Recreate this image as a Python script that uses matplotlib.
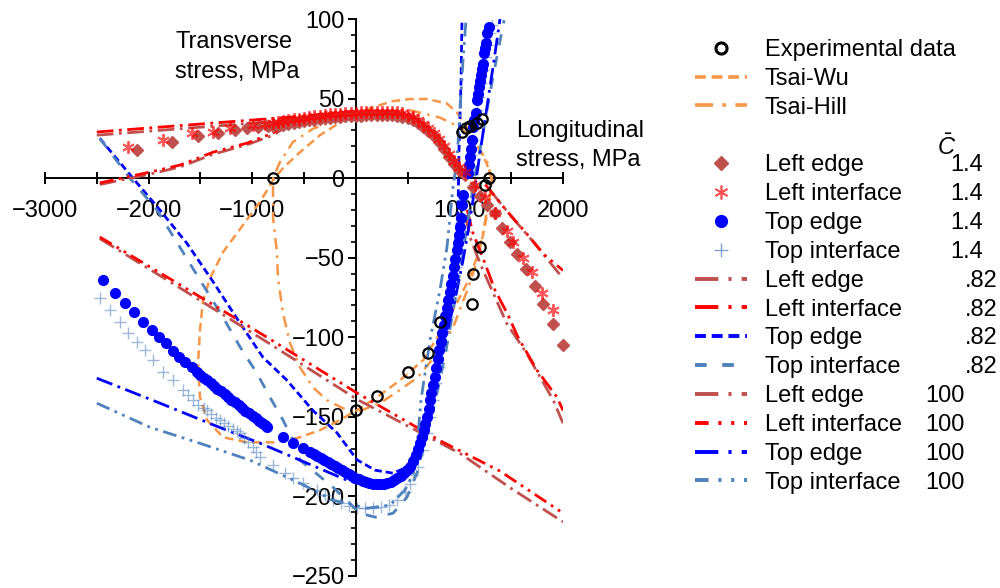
import numpy as np
import matplotlib
matplotlib.use('Agg')
import matplotlib.pyplot as plt
from matplotlib.lines import Line2D
from matplotlib.ticker import MultipleLocator, FuncFormatter

plt.rcParams['font.family'] = ['Liberation Sans', 'DejaVu Sans']
plt.rcParams['mathtext.fontset'] = 'custom'
plt.rcParams['mathtext.rm'] = 'Liberation Sans'
plt.rcParams['mathtext.it'] = 'Liberation Sans:italic'

nan = np.nan

# ---------------- data (longitudinal stress x, transverse stress y, MPa) -------------
exp_x = [-800, 0, 205, 502, 695, 811, 1120, 1130, 1197, 1245, 1284, 1023, 1062, 1100, 1168, 1216]
exp_y = [0, -145.5, -137, -122, -110, -90.5, -79, -60, -43, -4.4, 0, 29, 31.4, 32.7, 34.6, 37]

tw_x = [1315, 1263, 1167, 1070, 974, 877, 687, 523, 359, 166, -85, -346, -539, -703, -799,
        -925, -1089, -1282, -1407, -1475, -1504, -1523, -1504, -1436, -1282, -1050, -799,
        -568, -346, -153, 12, 205, 427, 649, 813, 938, 1073, 1170, 1228, 1276, 1315]
tw_y = [-1.3, 9.4, 22, 32, 41.5, 47, 49.7, 49.7, 48.4, 44.6, 37.7, 27, 16.3, 6.3, -1.3,
        -15, -29.5, -46.5, -63, -76.7, -95.5, -116.3, -137.6, -152, -162.8, -166, -166,
        -163.4, -158.4, -152, -145.8, -137.6, -127, -114.4, -97.4, -83, -66, -49.7, -35.8, -20, -1.3]

th_x = [1315, 1263, 1131, 1006, 813, 523, 205, 0, -200, -415, -608, -733, -799, -799, -761,
        -751, -703, -635, -539, -414, -278, -124, 12, 234, 427, 600, 800, 950, 1090, 1180,
        1240, 1290, 1315]
th_y = [-1.3, 11.3, 24, 32, 38, 42.7, 41.5, 39, 36, 31, 22.6, 10, 0, -25, -46.5,
        -62.9, -84.8, -103.7, -118.8, -131.4, -139.5, -144.6, -147, -141.4, -133, -125, -109,
        -92, -68, -50, -30, -12, -1.3]

band_x = [-800, -750, -700, -650, -600, -550, -500, -450, -400, -350, -300, -250, -200, -150,
          -100, -50, 0, 50, 100, 150, 200, 250, 300, 350, 400, 450, 500, 550, 600, 650, 700,
          750, 800, 850, 900, 950, 1000, 1050]
band_y = [34.0, 34.5, 34.9, 35.5, 36.1, 36.6, 37.1, 37.6, 38.0, 38.4, 38.8, 39.2, 39.6, 39.8,
          40.0, 40.2, 40.3, 40.5, 40.7, 40.8, 40.9, 40.9, 40.9, 40.8, 40.5, 39.9, 39.0, 37.6,
          35.8, 33.5, 30.8, 27.5, 23.9, 19.5, 14.5, 10.0, 6.3, 3.0]

le14_x = [-2115, -1777, -1520, -1327, -1166, -1047, -941, -845] + band_x + \
         [1131, 1199, 1266, 1343, 1411, 1488, 1556, 1643, 1730, 1807, 1904, 2000]
le14_y = [17.6, 22.8, 26.4, 28.5, 30.2, 31.2, 32.2, 32.7] + [v - 1.2 for v in band_y] + \
         [-5.7, -11, -17, -22, -31.4, -40.2, -47.8, -57.2, -67.9, -79.2, -91.8, -105]

li14_x = [-2199, -1861, -1584, -1376, -1214, -992, -880] + band_x + \
         [1150, 1250, 1340, 1461, 1519, 1616, 1703, 1799, 1905]
li14_y = [19.5, 23.9, 28.1, 29.1, 31.4, 33.3, 33.8] + [v + 0.8 for v in band_y] + \
         [-4, -12, -22, -33, -40, -50, -59, -72, -83]

te14_x = [-2440, -2324, -2228, -2141, -2054, -1967, -1900, -1832, -1764, -1706, -1648, -1581,
          -1533, -1504, -1470, -1436, -1400, -1369, -1335, -1301, -1267, -1233, -1200, -1166,
          -1132, -1098, -1065, -1031, -997, -963, -934, -905, -880, -857,
          -703, -606, -510,
          -442, -408, -374, -340, -307, -273, -239, -205, -172, -138, -104, -70, -37, -3, 31,
          65, 99, 132, 166, 200, 234, 268, 301, 335, 369, 402, 436, 466, 494,
          523, 552, 581, 600, 620, 639, 658, 672, 687, 702, 716, 730, 745, 760, 774, 789, 803,
          818, 832, 847, 861, 876, 890, 905, 919, 934, 948, 962, 977, 987, 997, 1006, 1016,
          1025, 1035,
          1083, 1093, 1102, 1112, 1122, 1131, 1145, 1160, 1170, 1180, 1189, 1199, 1208, 1218,
          1228, 1237, 1247, 1257, 1266, 1286]
te14_y = [-64, -72.3, -78.6, -84.3, -90.5, -95.5, -100, -103.7, -108.7, -112.5, -115.7, -118.8,
          -122, -123.8, -125.5, -127, -129, -130.7, -132.3, -133.9, -135.8, -137.6, -139.2, -140.8,
          -142.7, -144.6, -146.2, -147.7, -149.2, -150.8, -152.5, -154, -155.3, -156.5,
          -162.8, -166.6, -169.7,
          -172.2, -173.5, -174.7, -176, -177.2, -178.5, -179.8, -181, -182.3, -183.5, -184.8, -186,
          -187.3, -188.3, -189.2, -190.1, -191, -191.7, -192.3, -192.5, -192.3, -192, -191.7,
          -190.8, -189.8, -188.5, -187.3, -185.5, -183.5,
          -181.6, -178, -174, -170.5, -166.6, -162.5, -158.4, -154.3, -150.2, -145, -139.5, -134.7,
          -130, -124.7, -119.4, -113.7, -108, -102.7, -97.4, -92, -86.7, -81.7, -76.7, -71.7, -66.6,
          -61.3, -56, -50.7, -45.3, -40.5, -35.8, -30.4, -25, -17, -10.7,
          3, 8, 13, 18.5, 24, 32, 36.5, 41, 49, 53, 57, 61, 65, 68.5, 72, 78.6, 82, 85, 91, 95]

ti14_x = [-2469, -2373, -2276, -2199, -2112, -2035, -1958, -1861, -1764, -1668, -1620, -1571,
          -1520, -1470, -1436, -1400, -1350, -1311, -1270, -1230, -1190, -1150, -1118, -1080,
          -1040, -992, -960, -925, -799, -683, -606, -510, -374, -297, -220, -143, -66, 12, 89,
          166, 243, 320, 398, 475, 523, 552,
          600, 648, 687, 716, 745, 774, 803, 832, 861, 890, 919, 948, 967, 986, 1006, 1025, 1035,
          1093, 1112, 1131, 1150, 1170, 1189, 1208, 1228, 1257, 1276, 1295, 1315]
ti14_y = [-75.4, -83, -90.5, -97.4, -103, -108, -114.4, -122, -127, -133, -136.5, -139.5,
          -142.5, -144.5, -146, -148, -150.5, -152, -154, -156, -157.5, -159, -160.3, -163,
          -166, -169, -172, -175.4, -180.4, -185.4, -188.6, -191.7, -196.1, -199.2, -202.4,
          -204.3, -206.1, -207.4, -207.4, -207.4, -206.8, -205.5, -202.4, -197.3, -192.3, -186.7,
          -181.6, -171, -160.3, -150.2, -139.5, -128.8, -118.8, -108, -97.4, -87.4, -76.7, -66,
          -56, -45.3, -34.6, -24.5, -13.8,
          5, 14.5, 24, 33.3, 42.7, 51, 59.7, 67.9, 76, 83.6, 91, 96]

le082_x = [-2500, -2000, -1500, -1000, -500, 0, nan, 1060, 1102, 1199, 1457, 1650, 1778, 1906, 2000]
le082_y = [27, 29.5, 32, 34.5, 37, 40, nan, -24, -37, -53.6, -91.3, -110.2, -124.9, -139.5, -154]

li082_x = [-2500, -2000, -1500, -1000, -500, 0, nan, 1075, 1131, 1228, 1344, 1460, 1566, 1749, 1942, 2000]
li082_y = [29, 31.5, 34, 36.5, 39, 42, nan, -20, -34.6, -50.3, -70.4, -84.8, -100, -120.7, -137.6, -146]

te082_x = [-2471, -2152, -1891, -1630, -1389, -1119, -897, -665, -414, -182, 12, 186, 360, 495,
           620, 716, 813, 890, 948, 986, 996, 1016, 1025]
te082_y = [25, 0, -20, -41, -64, -91, -112.5, -127, -146, -160, -177, -183.5, -185.4, -181.6,
           -164.7, -142.7, -114.4, -83, -51.5, -23, 17.6, 61.6, 100]

ti082_x = [-2471, -2181, -1920, -1698, -1504, -1282, -1118, -954, -829, -703, -606, -539, -220,
           41, 186, 359, 494, 590, 668, 745, 812, 890, 957, 1025, 1083, 1141, 1199, 1266, 1324, 1431]
ti082_y = [25, 0, -20, -43.4, -64, -87.4, -106, -122.6, -137.6, -152, -164.7, -177.2, -194.2,
           -210.6, -213, -210.6, -200.5, -185.4, -164.7, -146, -127, -101.8, -76.7, -51.5, -26.4,
           -1.3, 17.6, 42.7, 63.5, 99.3]

le100_x = [-2471, -1988, -1697, -1378, -1050, -800, -700, nan, 1300, 1500, 1700, 2000, nan,
           -2471, -1697, -857, 12, 1006, 1500, 2000]
le100_y = [-4, 2.5, 7, 15, 21, 27, 31, nan, -8, -24, -39, -63, nan,
           -38, -69, -103, -139, -173, -195, -216]

li100_x = [-2471, -1988, -1697, -1378, -1050, -800, -732, nan, 1250, 1450, 1650, 1824, 2000, nan,
           -2471, -1697, -857, 12, 813, 1390, 2000]
li100_y = [-3, 3.8, 8.2, 16.3, 22, 28.3, 31.4, nan, -4, -20, -35, -48.4, -58, nan,
           -37, -67, -100, -135, -165, -184, -210.5]

te100_x = [-2500, -1890, -1377, -923, -539, -85, 137, 330, 474, 571, 668, 764, 861, 957, 1035,
           1102, 1160, 1218, 1276, 1334, 1392]
te100_y = [-125.7, -141.4, -155, -166.6, -177.2, -189.8, -194, -193, -186.7, -174, -152, -127,
           -101.8, -76.7, -51.5, -26.4, -1.3, 24, 49, 74, 100]

ti100_x = [-2500, -1988, -1505, -1022, -539, -220, 108, 330, 474, 571, 629, 716, 812, 880, 938,
           977, 1006, 1035, 1064]
ti100_y = [-141.4, -156.5, -166.6, -177.2, -191.7, -202.4, -207.4, -205.5, -196, -183.5, -139.5,
           -101.8, -70.4, -43.4, -5.7, 11.3, 42.7, 74, 100]

cbar_vals = ['1.4'] * 4 + ['.82'] * 4 + ['100'] * 4

# ---------------- styles -------------
ORANGE = '#F79646'
BROWN = '#C0504D'
RED = '#FF0000'
BLUE = '#0000FF'
STEEL = '#4F81BD'

DASH_TW = (0, (3.5, 2))
DASH_TH = (0, (4.5, 2.5, 1, 2.5))
DASH_LD = (0, (6, 2, 1, 2))
DASH_LDD = (0, (5, 2, 1, 2, 1, 2))
DASH_SHORT = (0, (2.6, 1.4))
DASH_LONG = (0, (4, 4))

fig = plt.figure(figsize=(10, 5.88), dpi=100)
ax = fig.add_axes([0.045, 1 - 576 / 588, 0.518, 557 / 588])
ax.set_xlim(-3000, 2000)
ax.set_ylim(-250, 100)

lw = 2.0
h_tw, = ax.plot(tw_x, tw_y, color=ORANGE, lw=1.8, ls=DASH_TW, zorder=2)
h_th, = ax.plot(th_x, th_y, color=ORANGE, lw=1.8, ls=DASH_TH, zorder=2)

h_le14, = ax.plot(le14_x, le14_y, ls='none', marker='D', ms=6, color=BROWN,
                  mec=BROWN, zorder=4, clip_on=False)
h_li14, = ax.plot(li14_x, li14_y, ls='none', marker=(6, 2, 0), ms=9, mew=1.4,
                  color=RED, alpha=0.65, zorder=4.5, clip_on=False)
h_ti14, = ax.plot(ti14_x, ti14_y, ls='none', marker='+', ms=8, mew=1.0, color=STEEL,
                  alpha=0.55, zorder=4, clip_on=False)
h_te14, = ax.plot(te14_x, te14_y, ls='none', marker='o', ms=7, color=BLUE, mec=BLUE,
                  zorder=4, clip_on=False)

h_le082, = ax.plot(le082_x, le082_y, color=BROWN, lw=lw, ls=DASH_LD, zorder=3)
h_li082, = ax.plot(li082_x, li082_y, color=RED, lw=lw, ls=DASH_LD, zorder=3)
h_te082, = ax.plot(te082_x, te082_y, color=BLUE, lw=lw, ls=DASH_SHORT, zorder=3)
h_ti082, = ax.plot(ti082_x, ti082_y, color=STEEL, lw=lw, ls=DASH_LONG, zorder=3)
h_le100, = ax.plot(le100_x, le100_y, color=BROWN, lw=lw, ls=DASH_LD, zorder=3)
h_li100, = ax.plot(li100_x, li100_y, color=RED, lw=lw, ls=DASH_LDD, zorder=3)
h_te100, = ax.plot(te100_x, te100_y, color=BLUE, lw=lw, ls=DASH_LD, zorder=3)
h_ti100, = ax.plot(ti100_x, ti100_y, color=STEEL, lw=lw, ls=DASH_LDD, zorder=3)

h_exp, = ax.plot(exp_x, exp_y, ls='none', marker='o', ms=7.5, mfc='none', mec='black',
                 mew=1.6, zorder=6, clip_on=False)

# ---------------- axes through origin -------------
for s in ['top', 'right']:
    ax.spines[s].set_visible(False)
ax.spines['left'].set_position(('data', 0))
ax.spines['bottom'].set_position(('data', 0))
for s in ['left', 'bottom']:
    ax.spines[s].set_linewidth(1.4)
    ax.spines[s].set_zorder(1)

ax.xaxis.set_major_locator(MultipleLocator(500))
ax.yaxis.set_major_locator(MultipleLocator(50))
ax.yaxis.set_minor_locator(MultipleLocator(10))


def xfmt(v, p):
    if abs(v) < 1e-9 or abs(v % 1000) > 1e-9:
        return ''
    return f'{v:.0f}'.replace('-', '\u2212')


def yfmt(v, p):
    return f'{v:.0f}'.replace('-', '\u2212')


ax.xaxis.set_major_formatter(FuncFormatter(xfmt))
ax.yaxis.set_major_formatter(FuncFormatter(yfmt))
ax.tick_params(axis='x', which='major', direction='inout', length=8, width=1.4,
               labelsize=17, pad=12)
ax.tick_params(axis='y', which='major', direction='out', length=6, width=1.4,
               labelsize=17, pad=2)
ax.tick_params(axis='y', which='minor', direction='out', length=3.5, width=1.2)

fs = 17
fig.text(0.175, 1 - 42 / 588, 'Transverse', fontsize=fs, va='center', ha='left')
fig.text(0.175, 1 - 72 / 588, 'stress, MPa', fontsize=fs, va='center', ha='left')
fig.text(0.516, 1 - 131 / 588, 'Longitudinal', fontsize=fs, va='center', ha='left')
fig.text(0.516, 1 - 160 / 588, 'stress, MPa', fontsize=fs, va='center', ha='left')

# ---------------- legend -------------
blank = Line2D([], [], ls='none', marker='none')
lg_ex = Line2D([], [], ls='none', marker='o', ms=8, mfc='none', mec='black', mew=2.2)
lg_tw = Line2D([], [], color=ORANGE, lw=2.6, ls=(0, (3, 1.6)))
lg_th = Line2D([], [], color=ORANGE, lw=2.6, ls=(0, (5, 2.6, 1, 2.6)))
lg_le14 = Line2D([], [], ls='none', marker='D', ms=7, color=BROWN)
lg_li14 = Line2D([], [], ls='none', marker=(6, 2, 0), ms=10, mew=1.2, color='#FF5050')
lg_te14 = Line2D([], [], ls='none', marker='o', ms=8.5, color=BLUE)
lg_ti14 = Line2D([], [], ls='none', marker='+', ms=10, mew=1.0, color='#7FA0D8')
lg_le082 = Line2D([], [], color=BROWN, lw=2.8, ls=(0, (6, 2.6, 0.8, 2.6)))
lg_li082 = Line2D([], [], color=RED, lw=2.8, ls=(0, (6, 2.6, 0.8, 2.6)))
lg_te082 = Line2D([], [], color=BLUE, lw=2.8, ls=(0, (2.8, 1.5)))
lg_ti082 = Line2D([], [], color=STEEL, lw=2.8, ls=(0, (3, 4)))
lg_le100 = Line2D([], [], color=BROWN, lw=2.8, ls=(0, (6, 2.6, 0.8, 2.6)))
lg_li100 = Line2D([], [], color=RED, lw=2.8, ls=(0, (3.5, 2.5, 0.8, 2.5, 0.8, 2.5)))
lg_te100 = Line2D([], [], color=BLUE, lw=2.8, ls=(0, (6, 2.6, 0.8, 2.6)))
lg_ti100 = Line2D([], [], color=STEEL, lw=2.8, ls=(0, (3.5, 2.5, 0.8, 2.5, 0.8, 2.5)))

handles = [lg_ex, lg_tw, lg_th, blank, lg_le14, lg_li14, lg_te14, lg_ti14,
           lg_le082, lg_li082, lg_te082, lg_ti082, lg_le100, lg_li100, lg_te100, lg_ti100]
labels = ['Experimental data', 'Tsai-Wu', 'Tsai-Hill', ' ',
          'Left edge', 'Left interface', 'Top edge', 'Top interface',
          'Left edge', 'Left interface', 'Top edge', 'Top interface',
          'Left edge', 'Left interface', 'Top edge', 'Top interface']
leg = fig.legend(handles, labels, loc='upper left', bbox_to_anchor=(0.695, 1 - 39 / 588),
                 frameon=False, fontsize=fs, handlelength=2.2, handletextpad=0.75,
                 labelspacing=0.29, borderpad=0, borderaxespad=0)

fig.canvas.draw()
inv = fig.transFigure.inverted()
texts = leg.get_texts()
centers = []
for t in texts:
    bb = t.get_window_extent()
    centers.append(inv.transform(((bb.x0 + bb.x1) / 2, (bb.y0 + bb.y1) / 2))[1])

fig.text(0.937, centers[3] - 11 / 588, r'$\bar{C}$', fontsize=fs, va='center', ha='left')
xpos = {'1.4': 0.950, '.82': 0.965, '100': 0.925}
for i, val in enumerate(cbar_vals):
    fig.text(xpos[val], centers[4 + i], val, fontsize=fs, va='center', ha='left')

fig.savefig('out.png', dpi=100)
